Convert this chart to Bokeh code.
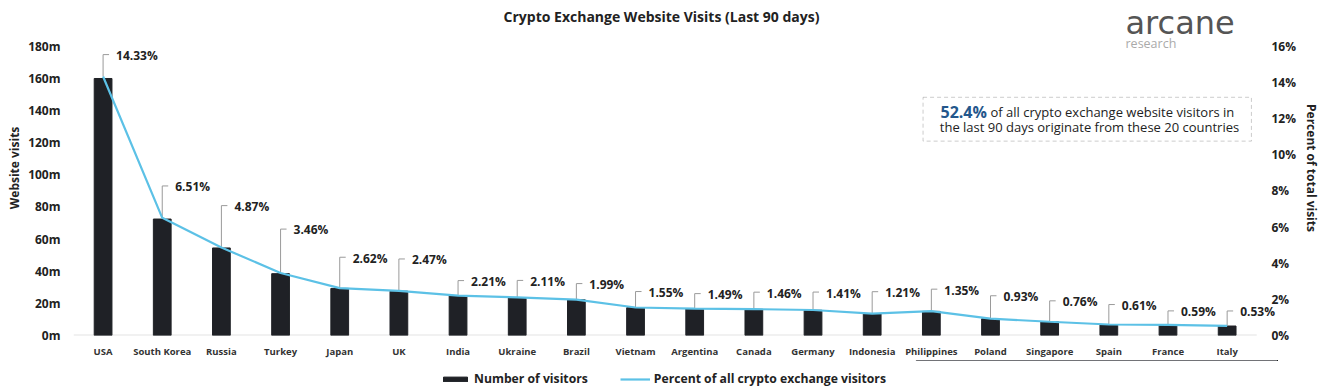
from bokeh.plotting import figure
from bokeh.layouts import column
from bokeh.models import (ColumnDataSource, Range1d, LinearAxis, FixedTicker, PrintfTickFormatter,
                          LabelSet, Label, BoxAnnotation, Legend, LegendItem)
from bokeh.transform import dodge
from bokeh.core.properties import value
from bokeh.embed import file_html
from bokeh.resources import INLINE

# ---------------- data ----------------
countries = ["USA", "South Korea", "Russia", "Turkey", "Japan", "UK", "India", "Ukraine",
             "Brazil", "Vietnam", "Argentina", "Canada", "Germany", "Indonesia", "Philippines",
             "Poland", "Singapore", "Spain", "France", "Italy"]
visitors_m = [160.0, 72.5, 54.5, 38.5, 29.3, 27.6, 24.7, 23.5, 22.2, 17.3,
              16.6, 16.3, 15.7, 13.5, 15.0, 10.4, 8.5, 6.8, 6.6, 5.9]
percent = [14.33, 6.51, 4.87, 3.46, 2.62, 2.47, 2.21, 2.11, 1.99, 1.55,
           1.49, 1.46, 1.41, 1.21, 1.35, 0.93, 0.76, 0.61, 0.59, 0.53]
left_ticks = [0, 20, 40, 60, 80, 100, 120, 140, 160, 180]
right_ticks = [0, 2, 4, 6, 8, 10, 12, 14, 16]

# ---------------- layout / style ----------------
FONT = "Open Sans"
TXT = "#222222"
BAR_COLOR = "#1f2126"
LINE_COLOR = "#5cc1e6"
W = 1323
H_MAIN, H_LEG = 360, 29
FL, FR, FB = 73, 1279, 336          # frame left / right / bottom (canvas px); frame top = 0
FRAME_W, FRAME_H = FR - FL, FB
TICK_SPAN_PX = 290                   # height of the 0..max-tick span
CAT_PX = 59.26                       # px per category
label_rise = [21, 31, 41, 43, 30, 31, 14, 16, 15, 15, 14, 16, 17, 21, 21, 22, 20, 19, 13, 14]  # px

px_per_pct = TICK_SPAN_PX / right_ticks[-1]
idx = list(range(len(countries)))

src = ColumnDataSource(dict(
    x=idx,
    country=countries,
    visitors=visitors_m,
    pct=percent,
    pct_label=[f"{v:.2f}%" for v in percent],
    rise=label_rise,
    lead_top=[v + (r + 1) / px_per_pct for v, r in zip(percent, label_rise)],
))

p = figure(width=W, height=H_MAIN,
           x_range=Range1d(-0.5, -0.5 + FRAME_W / CAT_PX),
           y_range=Range1d(0, left_ticks[-1] * FRAME_H / TICK_SPAN_PX),
           output_backend="svg", toolbar_location=None,
           min_border_left=FL, min_border_right=W - FR, min_border_top=0,
           min_border_bottom=H_MAIN - FB)
p.extra_y_ranges = {"pct": Range1d(0, right_ticks[-1] * FRAME_H / TICK_SPAN_PX)}
p.outline_line_color = None
p.xgrid.visible = False
p.ygrid.visible = False

# baseline under the bars
p.segment(x0=[-0.5], y0=[0], x1=[len(countries) - 0.5], y1=[0], line_color="#e3e3e3", line_width=2)

bars = p.vbar(x="x", top="visitors", width=0.3, source=src,
              fill_color=BAR_COLOR, line_color=BAR_COLOR)

p.segment(x0="x", y0="pct", x1="x", y1="lead_top", y_range_name="pct",
          source=src, line_color="#9a9a9a", line_width=1)
p.segment(x0="x", y0="lead_top", x1=dodge("x", 6 / CAT_PX), y1="lead_top",
          y_range_name="pct", source=src, line_color="#9a9a9a", line_width=1)

line = p.line(x="x", y="pct", y_range_name="pct", source=src,
              line_color=LINE_COLOR, line_width=2.2)

labels = LabelSet(x="x", y="pct", y_range_name="pct", text="pct_label", source=src,
                  x_offset=13, y_offset="rise", text_align="left", text_baseline="middle",
                  text_font=value(FONT), text_font_style="bold", text_font_size="12px",
                  text_color=TXT)
p.add_layout(labels)

# axes
ya = p.yaxis[0]
ya.ticker = FixedTicker(ticks=left_ticks)
ya.formatter = PrintfTickFormatter(format="%dm")
ya.axis_label = "Website visits"
ya.major_label_standoff = 13
ya.axis_label_standoff = 2

ra = LinearAxis(y_range_name="pct", ticker=FixedTicker(ticks=right_ticks),
                formatter=PrintfTickFormatter(format="%d%%"), axis_label="Percent of total visits")
p.add_layout(ra, "right")
ra.major_label_standoff = -6
ra.axis_label_standoff = 4

for ax in (ya, ra):
    ax.axis_line_color = None
    ax.major_tick_out = 0
    ax.major_tick_in = 0
    ax.minor_tick_out = 0
    ax.minor_tick_in = 0
    ax.major_tick_line_color = None
    ax.minor_tick_line_color = None
    ax.major_label_text_font = FONT
    ax.major_label_text_font_style = "bold"
    ax.major_label_text_font_size = "12px"
    ax.major_label_text_color = TXT
    ax.axis_label_text_font = FONT
    ax.axis_label_text_font_style = "bold"
    ax.axis_label_text_font_size = "12px"
    ax.axis_label_text_color = TXT

xa = p.xaxis[0]
xa.ticker = FixedTicker(ticks=idx)
xa.major_label_overrides = {i: c for i, c in zip(idx, countries)}
xa.axis_line_color = None
xa.major_tick_out = 0
xa.major_tick_in = 0
xa.minor_tick_out = 0
xa.minor_tick_in = 0
xa.major_tick_line_color = None
xa.minor_tick_line_color = None
xa.major_label_text_font = FONT
xa.major_label_text_font_style = "bold"
xa.major_label_text_font_size = "9.5px"
xa.major_label_text_color = "#333333"
xa.major_label_standoff = 9

# title and logo
p.add_layout(Label(x=588, y=319, x_units="screen", y_units="screen",
                   text="Crypto Exchange Website Visits (Last 90 days)",
                   text_align="center", text_baseline="middle", text_font=FONT,
                   text_font_style="bold", text_font_size="14px", text_color=TXT))
p.add_layout(Label(x=1052, y=313, x_units="screen", y_units="screen", text="arcane",
                   text_align="left", text_baseline="middle", text_font="DejaVu Sans",
                   text_font_size="32px", text_color="#555555"))
p.add_layout(Label(x=1052, y=292, x_units="screen", y_units="screen", text="research",
                   text_align="left", text_baseline="middle", text_font=FONT,
                   text_font_size="12.5px", text_color="#aaaaaa"))

# annotation box
p.add_layout(BoxAnnotation(left=13.86, right=19.41, bottom=121.0, top=148.3,
                           fill_alpha=0, line_color="#555555", line_dash="4 3", line_width=1))
p.add_layout(Label(x=867, y=224, x_units="screen", y_units="screen", text="52.4%",
                   text_align="left", text_baseline="middle", text_font=FONT,
                   text_font_style="bold", text_font_size="16px", text_color="#24578c"))
p.add_layout(Label(x=917, y=224, x_units="screen", y_units="screen",
                   text="of all crypto exchange website visitors in",
                   text_align="left", text_baseline="middle", text_font=FONT,
                   text_font_size="13px", text_color=TXT))
p.add_layout(Label(x=1016, y=209, x_units="screen", y_units="screen",
                   text="the last 90 days originate from these 20 countries",
                   text_align="center", text_baseline="middle", text_font=FONT,
                   text_font_size="13px", text_color=TXT))

# ---------------- legend strip (same data, ranges chosen so nothing is visible) ----------------
q = figure(width=W, height=H_LEG, x_range=Range1d(-0.5, 0), y_range=Range1d(-2, -1),
           x_axis_type=None, y_axis_type=None, output_backend="svg", toolbar_location=None,
           min_border_left=0, min_border_right=0, min_border_top=0, min_border_bottom=0)
q.outline_line_color = None
q.xgrid.visible = False
q.ygrid.visible = False
leg_bar = q.vbar(x="x", top="visitors", width=0.3, source=src,
                 fill_color=BAR_COLOR, line_color=BAR_COLOR)
leg_line = q.line(x="x", y="pct", source=src, line_color=LINE_COLOR, line_width=2.2)
legend = Legend(items=[LegendItem(label="Number of visitors", renderers=[leg_bar]),
                       LegendItem(label="Percent of all crypto exchange visitors", renderers=[leg_line])],
                orientation="horizontal", location=(440 - FL, 2),
                glyph_width=30, glyph_height=6, label_height=14, label_standoff=4, spacing=32,
                padding=0, margin=0, border_line_color=None, background_fill_alpha=0,
                label_text_font=FONT, label_text_font_style="bold", label_text_font_size="12.2px",
                label_text_color=TXT)
q.add_layout(legend)

open("out.html", "w").write(file_html(column(p, q, spacing=0), INLINE))
